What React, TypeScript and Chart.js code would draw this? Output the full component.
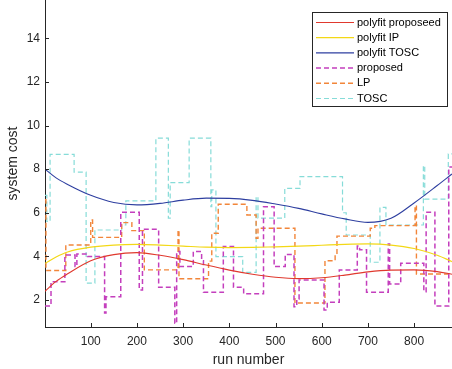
import React, { useEffect, useRef } from "react";
import { Chart, registerables } from "chart.js";

Chart.register(...registerables);

// ---- data ----
const xTicks = [100, 200, 300, 400, 500, 600, 700, 800];
const yTicks = [2, 4, 6, 8, 10, 12, 14];
const seriesLabels = ["polyfit proposeed", "polyfit IP", "polyfit TOSC", "proposed", "LP", "TOSC"];

const polyX = [1, 25, 50, 100, 150, 200, 250, 300, 350, 400, 450, 500, 550, 600, 650, 700, 750, 800, 850, 882];
const polyProposed = [2.4, 2.85, 3.2, 3.8, 4.08, 4.17, 4.05, 3.85, 3.6, 3.37, 3.18, 3.04, 2.98, 3.02, 3.14, 3.29, 3.37, 3.38, 3.3, 3.18];
const polyLP = [3.68, 3.97, 4.2, 4.42, 4.52, 4.55, 4.52, 4.47, 4.42, 4.4, 4.41, 4.44, 4.47, 4.51, 4.55, 4.57, 4.52, 4.36, 4.05, 3.76];
const polyTOSC = [8.0, 7.6, 7.3, 6.8, 6.47, 6.36, 6.43, 6.58, 6.67, 6.66, 6.57, 6.4, 6.2, 5.95, 5.72, 5.56, 5.75, 6.45, 7.25, 7.78];

const proposedX = [1, 14, 44, 66, 70, 93, 130, 133, 165, 205, 212, 247, 282, 286, 293, 322, 340, 344, 387, 409, 431, 474, 497, 521, 540, 546, 551, 605, 612, 638, 677, 682, 697, 744, 747, 771, 821, 826, 845, 875, 882];
const proposedY = [1.72, 2.84, 4.06, 3.53, 4.11, 3.99, 1.4, 2.15, 6.02, 2.46, 5.24, 2.58, 0.93, 4.22, 3.53, 4.22, 3.8, 2.35, 4.45, 2.58, 2.28, 6.28, 3.53, 4.09, 1.69, 2.05, 2.92, 1.54, 1.89, 3.38, 4.48, 4.3, 2.35, 4.57, 2.73, 3.68, 2.38, 6.02, 1.72, 8.1, 8.1];

const lpX = [1, 3, 46, 100, 104, 167, 189, 216, 289, 291, 355, 362, 376, 438, 458, 462, 542, 607, 629, 633, 705, 715, 802, 805, 882];
const lpY = [6.6, 3.35, 4.52, 5.67, 4.87, 5.55, 5.18, 3.38, 5.21, 2.97, 3.78, 5.06, 6.39, 5.9, 4.83, 5.29, 1.86, 3.8, 4.06, 4.93, 5.29, 5.41, 6.33, 3.19, 3.19];

const toscX = [1, 5, 12, 64, 90, 109, 167, 176, 241, 268, 272, 313, 360, 362, 371, 429, 458, 462, 520, 553, 645, 653, 705, 726, 739, 820, 823, 874, 882];
const toscY = [6.8, 5.6, 8.68, 7.86, 2.77, 5.21, 5.44, 6.55, 9.42, 5.75, 7.38, 9.42, 6.28, 7.05, 3.99, 3.27, 6.74, 5.75, 7.12, 7.66, 6.0, 4.98, 3.73, 6.25, 5.44, 8.16, 6.63, 8.7, 8.7];

const toPts = (xs: number[], ys: number[]) => xs.map((x, i) => ({ x, y: ys[i] }));

const FONT = '"Liberation Sans", Arial, Helvetica, sans-serif';
const AXIS = "#262626";

const axisPlugin = {
  id: "inwardTicks",
  afterDraw(chart: any) {
    const ctx = chart.ctx;
    const a = chart.chartArea;
    const xs = chart.scales.x;
    const ys = chart.scales.y;
    ctx.save();
    ctx.strokeStyle = AXIS;
    ctx.lineWidth = 1;
    ctx.beginPath();
    xs.ticks.forEach((t: any) => {
      const px = Math.round(xs.getPixelForValue(t.value)) + 0.5;
      ctx.moveTo(px, a.bottom);
      ctx.lineTo(px, a.bottom - 4);
    });
    ys.ticks.forEach((t: any) => {
      const py = Math.round(ys.getPixelForValue(t.value)) + 0.5;
      ctx.moveTo(a.left, py);
      ctx.lineTo(a.left + 4, py);
    });
    ctx.stroke();
    ctx.restore();
  },
};

const legendPlugin = {
  id: "boxLegend",
  afterDraw(chart: any) {
    const ctx = chart.ctx;
    ctx.save();
    const bx = 312.5, by = 12.5, bw = 135, bh = 94;
    ctx.fillStyle = "#ffffff";
    ctx.fillRect(bx, by, bw, bh);
    ctx.strokeStyle = AXIS;
    ctx.lineWidth = 1;
    ctx.strokeRect(bx, by, bw, bh);
    chart.data.datasets.forEach((ds: any, i: number) => {
      const y = 22.5 + i * 15.2;
      ctx.strokeStyle = ds.borderColor;
      ctx.lineWidth = ds.borderWidth;
      ctx.setLineDash(ds.borderDash || []);
      ctx.beginPath();
      ctx.moveTo(316, y);
      ctx.lineTo(354, y);
      ctx.stroke();
      ctx.setLineDash([]);
      ctx.fillStyle = "#000000";
      ctx.font = `11px ${FONT}`;
      ctx.textBaseline = "middle";
      ctx.textAlign = "left";
      ctx.fillText(ds.label, 357, y);
    });
    ctx.restore();
  },
};

export default function App() {
  const ref = useRef<HTMLCanvasElement | null>(null);

  useEffect(() => {
    if (!ref.current) return;
    Chart.defaults.font.family = FONT;
    const smooth = { pointRadius: 0, cubicInterpolationMode: "monotone" as const, fill: false };
    const step = { pointRadius: 0, stepped: "before" as const, fill: false, borderDash: [5, 3] };
    const chart = new Chart(ref.current, {
      type: "line",
      data: {
        datasets: [
          { label: seriesLabels[0], data: toPts(polyX, polyProposed), borderColor: "#e0392e", borderWidth: 1.1, order: 1, ...smooth },
          { label: seriesLabels[1], data: toPts(polyX, polyLP), borderColor: "#f3d816", borderWidth: 1.2, order: 1, ...smooth },
          { label: seriesLabels[2], data: toPts(polyX, polyTOSC), borderColor: "#2e3fa0", borderWidth: 1.1, order: 1, ...smooth },
          { label: seriesLabels[3], data: toPts(proposedX, proposedY), borderColor: "#c43fbd", borderWidth: 1.5, order: 2, ...step },
          { label: seriesLabels[4], data: toPts(lpX, lpY), borderColor: "#f2863a", borderWidth: 1.4, order: 3, ...step },
          { label: seriesLabels[5], data: toPts(toscX, toscY), borderColor: "#86dcd8", borderWidth: 1.2, order: 4, ...step },
        ],
      },
      options: {
        animation: false,
        responsive: false,
        devicePixelRatio: 1,
        layout: { padding: 0 },
        plugins: { legend: { display: false }, tooltip: { enabled: false } },
        scales: {
          x: {
            type: "linear",
            min: 1,
            max: 882,
            grid: { display: false, drawTicks: false },
            border: { display: true, color: AXIS, width: 1 },
            ticks: { color: AXIS, font: { size: 12 }, padding: 7, maxRotation: 0 },
            afterBuildTicks: (s: any) => { s.ticks = xTicks.map((v) => ({ value: v })); },
            afterFit: (s: any) => { s.height = 42; s.paddingLeft = 0; s.paddingRight = 0; },
            title: { display: true, text: "run number", color: AXIS, font: { size: 14 }, padding: { top: 1, bottom: 0 } },
          },
          y: {
            type: "linear",
            min: 0.76,
            max: 15.76,
            grid: { display: false, drawTicks: false },
            border: { display: true, color: AXIS, width: 1 },
            ticks: { color: AXIS, font: { size: 12 }, padding: 5 },
            afterBuildTicks: (s: any) => { s.ticks = yTicks.map((v) => ({ value: v })); },
            afterFit: (s: any) => { s.width = 45; s.paddingTop = 0; s.paddingBottom = 0; },
            title: { display: true, text: "system cost", color: AXIS, font: { size: 14 }, padding: { top: 5, bottom: 0 } },
          },
        },
      },
      plugins: [axisPlugin, legendPlugin],
    });
    return () => chart.destroy();
  }, []);

  return (
    <div style={{ position: "absolute", left: 0, top: 0, width: 452, height: 369, background: "#fff" }}>
      <canvas ref={ref} width={452} height={369} style={{ width: 452, height: 369, display: "block" }} />
    </div>
  );
}
